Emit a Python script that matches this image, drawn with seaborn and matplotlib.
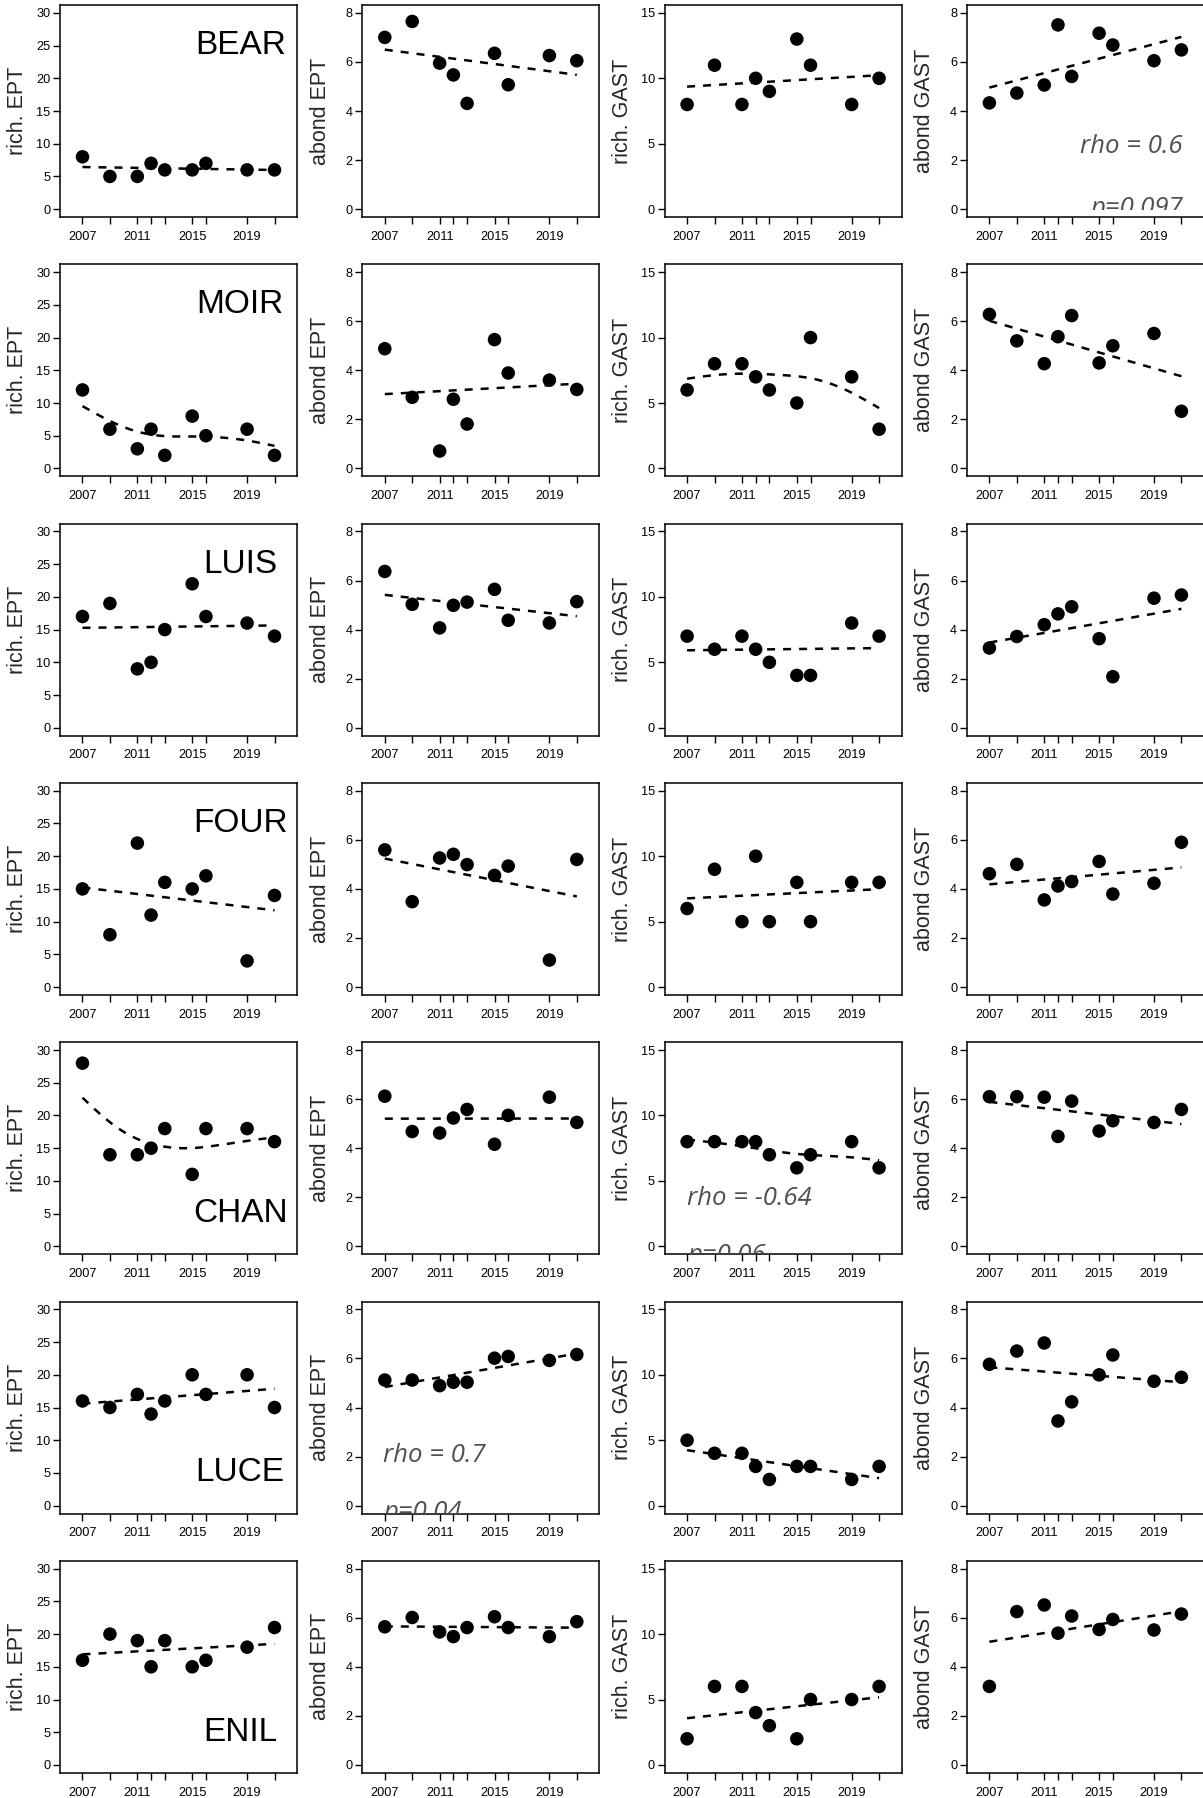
import numpy as np
import pandas as pd
import matplotlib
matplotlib.use("Agg")
import matplotlib.pyplot as plt
import matplotlib.transforms as mtransforms
import seaborn as sns

# ---------------- data ----------------
years = [2007, 2009, 2011, 2012, 2013, 2015, 2016, 2019, 2021]
labelled_years = [2007, 2011, 2015, 2019]
sites = ["BEAR", "MOIR", "LUIS", "FOUR", "CHAN", "LUCE", "ENIL"]
metrics = ["rich. EPT", "abond EPT", "rich. GAST", "abond GAST"]
metric_max = [30, 8, 15, 8]
metric_step = [5, 2, 5, 2]

rich_ept = [
    [8, 5, 5, 7, 6, 6, 7, 6, 6],
    [12, 6, 3, 6, 2, 8, 5, 6, 2],
    [17, 19, 9, 10, 15, 22, 17, 16, 14],
    [15, 8, 22, 11, 16, 15, 17, 4, 14],
    [28, 14, 14, 15, 18, 11, 18, 18, 16],
    [16, 15, 17, 14, 16, 20, 17, 20, 15],
    [16, 20, 19, 15, 19, 15, 16, 18, 21],
]
abond_ept = [
    [7.0, 7.65, 5.95, 5.47, 4.31, 6.35, 5.07, 6.26, 6.05],
    [4.88, 2.9, 0.71, 2.82, 1.81, 5.25, 3.89, 3.6, 3.22],
    [6.37, 5.03, 4.07, 4.99, 5.12, 5.64, 4.38, 4.27, 5.14],
    [5.59, 3.48, 5.26, 5.41, 4.99, 4.55, 4.93, 1.1, 5.2],
    [6.12, 4.68, 4.62, 5.23, 5.58, 4.16, 5.34, 6.08, 5.05],
    [5.12, 5.12, 4.89, 5.03, 5.03, 6.01, 6.08, 5.92, 6.16],
    [5.63, 6.01, 5.42, 5.23, 5.6, 6.04, 5.6, 5.23, 5.84],
]
rich_gast = [
    [8, 11, 8, 10, 9, 13, 11, 8, 10],
    [6, 8, 8, 7, 6, 5, 10, 7, 3],
    [7, 6, 7, 6, 5, 4, 4, 8, 7],
    [6, 9, 5, 10, 5, 8, 5, 8, 8],
    [8, 8, 8, 8, 7, 6, 7, 8, 6],
    [5, 4, 4, 3, 2, 3, 3, 2, 3],
    [2, 6, 6, 4, 3, 2, 5, 5, 6],
]
abond_gast = [
    [4.33, 4.73, 5.06, 7.51, 5.41, 7.17, 6.69, 6.05, 6.49],
    [6.28, 5.2, 4.27, 5.37, 6.23, 4.3, 5.0, 5.5, 2.33],
    [3.25, 3.72, 4.2, 4.64, 4.93, 3.63, 2.08, 5.28, 5.41],
    [4.62, 5.0, 3.55, 4.12, 4.3, 5.12, 3.79, 4.23, 5.9],
    [6.1, 6.1, 6.08, 4.48, 5.92, 4.7, 5.12, 5.05, 5.58],
    [5.76, 6.3, 6.63, 3.45, 4.23, 5.33, 6.14, 5.07, 5.23],
    [3.2, 6.25, 6.52, 5.37, 6.07, 5.52, 5.93, 5.5, 6.15],
]
# trend smoothness per panel (None = straight least-squares line,
# number = smoothing-spline penalty)
fit_smooth = [
    [None, None, None, None],
    [28, None, 35, None],
    [None, None, None, None],
    [None, None, None, None],
    [30, None, 30, None],
    [None, None, None, None],
    [None, None, None, None],
]
# significant-trend annotations
stats_rows = [0, 4, 5]
stats_cols = [3, 2, 1]
stats_rho = ["rho = 0.6", "rho = -0.64", "rho = 0.7"]
stats_p = ["p=0.097", "p=0.06", "p=0.04"]


def smooth_fit(x, y, lam, step=0.1):
    """Penalised (smoothing-spline like) fit on a fine grid."""
    x = np.asarray(x, float)
    y = np.asarray(y, float)
    grid = np.round(np.arange(x.min(), x.max() + step / 2, step), 6)
    n = len(grid)
    idx = np.round((x - x.min()) / step).astype(int)
    Wm = np.zeros((len(x), n))
    Wm[np.arange(len(x)), idx] = 1.0
    D = np.diff(np.eye(n), 2, axis=0)
    A = Wm.T @ Wm + lam / step ** 3 * (D.T @ D)
    f = np.linalg.solve(A, Wm.T @ y)
    return grid, f


# ---------------- style ----------------
sns.set_style("ticks")
plt.rcParams["font.family"] = ["Liberation Sans", "DejaVu Sans"]

W, H = 1203, 1798
fig = plt.figure(figsize=(W / 100, H / 100), dpi=100)

all_data = [rich_ept, abond_ept, rich_gast, abond_gast]
box_w, box_h = 237, 212
col_pitch, row_pitch = 302.3, 259.3
dash_kws = dict(lw=1.8, dashes=(3.2, 3.2), color="black")

stats_pos = {
    (0, 3): (2021.1, 2.28, "right", 0.62, 0.035),
    (4, 2): (2007.0, 3.16, "left", 0.57, 0.0),
    (5, 1): (2006.9, 1.79, "left", 0.57, 0.0),
}

for r, site in enumerate(sites):
    for c, metric in enumerate(metrics):
        left = 60 + col_pitch * c
        top = 5 + row_pitch * r
        ax = fig.add_axes([left / W, 1 - (top + box_h) / H, box_w / W, box_h / H])
        vals = all_data[c][r]
        df = pd.DataFrame({"year": years, "value": vals})
        lam = fit_smooth[r][c]
        if lam is None:
            sns.regplot(data=df, x="year", y="value", ax=ax, scatter=False,
                        ci=None, truncate=True, color="black", line_kws=dash_kws)
        else:
            gx, gy = smooth_fit(years, vals, lam)
            sns.lineplot(x=gx, y=gy, ax=ax, **dash_kws)
        sns.scatterplot(data=df, x="year", y="value", ax=ax, color="black",
                        s=95, edgecolor="none", zorder=3)
        ymax = metric_max[c]
        ax.set_xlim(2005.36, 2022.64)
        ax.set_ylim(-0.04 * ymax, 1.04 * ymax)
        ax.set_xticks(years)
        ax.set_xticklabels([str(y) if y in labelled_years else "" for y in years])
        ax.set_yticks(np.arange(0, ymax + 1, metric_step[c]))
        ax.tick_params(axis="both", direction="out", length=5, width=1.0,
                       labelsize=9.2, colors="black")
        ax.tick_params(axis="x", pad=5)
        ax.tick_params(axis="y", pad=2)
        for sp in ax.spines.values():
            sp.set_visible(True)
            sp.set_linewidth(1.1)
            sp.set_color("black")
        ax.set_xlabel("")
        ax.set_ylabel(metric, fontsize=15.5)
        ax.yaxis.label.set_verticalalignment("center")
        ax.yaxis.set_label_coords(-42 / box_w, 0.5)

        if c == 0:
            ax.text(2018.5, 25 if r < 4 else 5, site, fontsize=24,
                    ha="center", va="center", color="black")

        if (r, c) in stats_pos:
            k = [i for i in range(len(stats_rows))
                 if stats_rows[i] == r and stats_cols[i] == c][0]
            x0, y0, ha, dy, clipfrac = stats_pos[(r, c)]
            ax.text(x0, y0, stats_rho[k], fontsize=18.5, style="italic",
                    family=["Open Sans", "DejaVu Sans"], color="#505050",
                    ha=ha, va="baseline", clip_on=True)
            tr = ax.transData + mtransforms.ScaledTranslation(0, -dy, fig.dpi_scale_trans)
            tp = ax.text(x0, y0, stats_p[k], fontsize=18.5, style="italic",
                         family=["Open Sans", "DejaVu Sans"], color="#505050",
                         ha=ha, va="baseline", clip_on=True, transform=tr)
            tp.set_clip_box(mtransforms.TransformedBbox(
                mtransforms.Bbox([[0, clipfrac], [1, 1]]), ax.transAxes))

fig.savefig("out.png", dpi=100)
